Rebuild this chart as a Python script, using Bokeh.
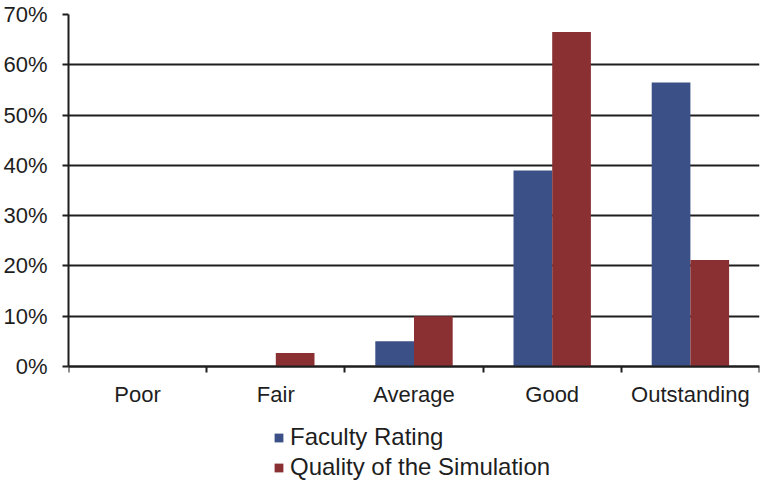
from bokeh.plotting import figure
from bokeh.models import (ColumnDataSource, Range1d, FixedTicker, NumeralTickFormatter,
                          Legend, LegendItem, LinearAxis)
from bokeh.embed import file_html
from bokeh.resources import INLINE

categories = ["Poor", "Fair", "Average", "Good", "Outstanding"]
faculty_rating = [0.0, 0.0, 5.0, 39.0, 56.5]
quality_sim = [0.0, 2.7, 10.0, 66.5, 21.2]
y_ticks = [0, 10, 20, 30, 40, 50, 60, 70]

BLUE = "#3b5086"
RED = "#8a3033"
FONT = "Liberation Sans"
TXT = "#1e1e1e"

idx = list(range(len(categories)))
bw = 0.28
src = ColumnDataSource(dict(
    xb=[i + 0.5 - bw / 2 for i in idx],
    xr=[i + 0.5 + bw / 2 for i in idx],
    fr=[v / 100 for v in faculty_rating],
    qs=[v / 100 for v in quality_sim],
))

ymax = y_ticks[-1] / 100
# extra room below the zero line for the category labels and legend
ymin = -ymax * 124 / 352

p = figure(width=760, height=490, output_backend="svg", toolbar_location=None,
           x_range=Range1d(0, len(categories)), y_range=Range1d(ymin, ymax),
           x_axis_location=None,
           min_border_left=66, min_border_right=1, min_border_top=14, min_border_bottom=0)
p.outline_line_color = None

rb = p.vbar(x="xb", top="fr", width=bw, source=src, fill_color=BLUE, line_color=None)
rr = p.vbar(x="xr", top="qs", width=bw, source=src, fill_color=RED, line_color=None)

# y axis
p.yaxis.ticker = FixedTicker(ticks=[t / 100 for t in y_ticks])
p.yaxis.bounds = (0, ymax)
p.yaxis.formatter = NumeralTickFormatter(format="0%")
p.yaxis.axis_line_color = "#1e1e1e"
p.yaxis.axis_line_width = 2
p.yaxis.major_tick_line_color = "#1e1e1e"
p.yaxis.major_tick_line_width = 2
p.yaxis.major_tick_out = 6
p.yaxis.major_tick_in = 0
p.yaxis.minor_tick_line_color = None
p.yaxis.major_label_standoff = 15
p.yaxis.major_label_text_font = FONT
p.yaxis.major_label_text_font_size = "22px"
p.yaxis.major_label_text_color = TXT

# x axis fixed at zero
xaxis = LinearAxis(fixed_location=0)
xaxis.ticker = FixedTicker(ticks=[i + 0.5 for i in idx], minor_ticks=list(range(len(categories) + 1)))
xaxis.major_label_overrides = {i + 0.5: c for i, c in zip(idx, categories)}
xaxis.axis_line_color = "#1e1e1e"
xaxis.axis_line_width = 2
xaxis.major_tick_line_color = None
xaxis.major_tick_out = 6
xaxis.major_tick_in = 0
xaxis.minor_tick_line_color = "#1e1e1e"
xaxis.minor_tick_line_width = 2
xaxis.minor_tick_out = 6
xaxis.minor_tick_in = 0
xaxis.major_label_standoff = 9
xaxis.major_label_text_font = FONT
xaxis.major_label_text_font_size = "22px"
xaxis.major_label_text_color = TXT
p.add_layout(xaxis, "below")

p.xgrid.grid_line_color = None
p.ygrid.ticker = FixedTicker(ticks=[t / 100 for t in y_ticks])
p.ygrid.grid_line_color = "#1e1e1e"
p.ygrid.grid_line_width = 2

legend = Legend(items=[LegendItem(label="Faculty Rating", renderers=[rb]),
                       LegendItem(label="Quality of the Simulation", renderers=[rr])],
                location=(205, 9), orientation="vertical",
                glyph_width=11, glyph_height=11, label_standoff=6, spacing=2,
                padding=0, margin=0, border_line_color=None, background_fill_alpha=0,
                label_text_font=FONT, label_text_font_size="24px", label_text_color=TXT,
                label_height=24)
p.add_layout(legend, "center")

open("out.html", "w").write(file_html(p, INLINE))
